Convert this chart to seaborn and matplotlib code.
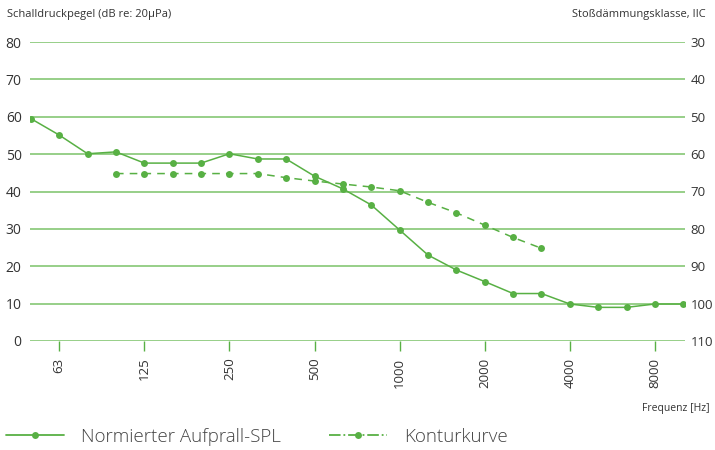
import matplotlib
matplotlib.use("Agg")
import matplotlib.pyplot as plt
from matplotlib.lines import Line2D
import seaborn as sns
import pandas as pd
import numpy as np

bands = ["50", "63", "80", "100", "125", "160", "200", "250", "315", "400", "500", "630",
         "800", "1000", "1250", "1600", "2000", "2500", "3150", "4000", "5000", "6300",
         "8000", "10000"]
spl = [59.5, 55.1, 50.1, 50.6, 47.6, 47.6, 47.6, 50.1, 48.7, 48.7, 44.1, 40.7,
       36.4, 29.7, 23.0, 19.0, 15.9, 12.7, 12.7, 9.9, 9.0, 9.0, 9.9, 9.9]
contour_bands = ["100", "125", "160", "200", "250", "315", "400", "500", "630", "800",
                 "1000", "1250", "1600", "2000", "2500", "3150"]
contour = [44.8, 44.8, 44.8, 44.8, 44.8, 44.8, 43.7, 42.8, 42.0, 41.2,
           40.2, 37.1, 34.3, 31.0, 27.7, 24.8]
tick_bands = ["63", "125", "250", "500", "1000", "2000", "4000", "8000"]
left_ticks = [0, 10, 20, 30, 40, 50, 60, 70, 80]
right_ticks = [30, 40, 50, 60, 70, 80, 90, 100, 110]

label_spl = "Normierter Aufprall-SPL"
label_contour = "Konturkurve"

sns.set_theme(style="white")
plt.rcParams["font.family"] = ["Open Sans", "DejaVu Sans"]

green = "#58b044"
grid_green = "#8fcc7f"
text_col = "#333333"

df_spl = pd.DataFrame({"x": [bands.index(b) for b in bands], "y": spl})
df_con = pd.DataFrame({"x": [bands.index(b) for b in contour_bands], "y": contour})

fig = plt.figure(figsize=(7.15, 4.5), dpi=100)
ax = fig.add_axes([30 / 715, 1 - 341 / 450, (685 - 30) / 715, (341 - 42) / 450])

for t in left_ticks:
    ax.axhline(t, color=grid_green, lw=1.3, zorder=0)

sns.lineplot(data=df_spl, x="x", y="y", ax=ax, color=green, lw=1.1, marker="o",
             markersize=5, markeredgewidth=0, zorder=3)
sns.lineplot(data=df_con, x="x", y="y", ax=ax, color=green, lw=1.1, marker="o",
             markersize=5, markeredgewidth=0, zorder=3, dashes=False)
ax.lines[-1].set_dashes([5, 4])

ax.set_xlim(-0.03, len(bands) - 1 + 0.06)
ax.set_ylim(0, 80)
for s in ax.spines.values():
    s.set_visible(False)
ax.set_xlabel("")
ax.set_ylabel("")
ax.set_xticks([bands.index(b) for b in tick_bands])
ax.set_xticklabels(tick_bands, rotation=90, fontsize=9.5, color=text_col)
ax.tick_params(axis="x", bottom=True, length=7, width=1, color=green, pad=5)
ax.set_yticks(left_ticks)
ax.set_yticklabels([str(t) for t in left_ticks], fontsize=10, color=text_col)
ax.tick_params(axis="y", left=False, right=False, length=0, pad=6)

ax2 = ax.twinx()
ax2.set_ylim(110, 30)
ax2.set_yticks(right_ticks)
ax2.set_yticklabels([str(t) for t in right_ticks], fontsize=9.5, color=text_col)
ax2.tick_params(axis="y", left=False, right=False, length=0, pad=4)
for s in ax2.spines.values():
    s.set_visible(False)
ax2.grid(False)
ax.grid(False)

fig.text(7 / 715, 1 - 14 / 450, "Schalldruckpegel (dB re: 20µPa)", fontsize=8,
         color=text_col, va="center", ha="left")
fig.text(706 / 715, 1 - 14 / 450, "Stoßdämmungsklasse, IIC", fontsize=8,
         color=text_col, va="center", ha="right")
fig.text(710 / 715, 1 - 408 / 450, "Frequenz [Hz]", fontsize=7.5,
         color=text_col, va="center", ha="right")

h1 = Line2D([], [], color=green, lw=1.3, marker="o", markersize=5, markeredgewidth=0)
h2 = Line2D([], [], color=green, lw=1.3, marker="o", markersize=5, markeredgewidth=0,
            linestyle="-.")
leg = fig.legend([h1, h2], [label_spl, label_contour], loc="center left",
                 bbox_to_anchor=(0, 1 - 437 / 450), ncol=2, frameon=False,
                 fontsize=13.5, handlelength=3.1, handletextpad=0.9, columnspacing=2.6,
                 borderaxespad=0, borderpad=0.3)
for t in leg.get_texts():
    t.set_color("#444444")
    t.set_fontweight("light")

fig.savefig("out.png", dpi=100)
